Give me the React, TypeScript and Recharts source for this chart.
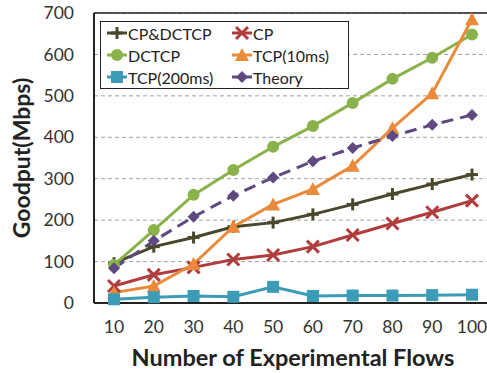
import React from "react";
import {
  CartesianGrid,
  Line,
  LineChart,
  ReferenceLine,
  XAxis,
  YAxis,
} from "recharts";

const flows = [10, 20, 30, 40, 50, 60, 70, 80, 90, 100];
const cpDctcp = [96, 136, 158, 184, 194, 214, 238, 263, 287, 310];
const cp = [41, 68, 86, 105, 116, 136, 164, 192, 219, 247];
const dctcp = [92, 176, 261, 321, 377, 427, 483, 541, 592, 648];
const tcp10 = [25, 41, 94, 184, 238, 275, 331, 422, 506, 685];
const tcp200 = [9, 14, 17, 15, 39, 17, 18, 18, 19, 20];
const theory = [84, 150, 208, 259, 303, 342, 374, 403, 430, 454];
const yTicks = [0, 100, 200, 300, 400, 500, 600, 700];
const boundaryTicks = [15, 25, 35, 45, 55, 65, 75, 85, 95];

const data = flows.map((f, i) => ({
  flows: f,
  cpDctcp: cpDctcp[i],
  cp: cp[i],
  dctcp: dctcp[i],
  tcp10: tcp10[i],
  tcp200: tcp200[i],
  theory: theory[i],
}));

const FONT = "Lato, 'Open Sans', sans-serif";

type Shape = "plus" | "cross" | "circle" | "triangle" | "square" | "diamond";

const series: { key: string; name: string; color: string; shape: Shape; dashed?: boolean }[] = [
  { key: "cpDctcp", name: "CP&DCTCP", color: "#4a482c", shape: "plus" },
  { key: "cp", name: "CP", color: "#b03c3c", shape: "cross" },
  { key: "dctcp", name: "DCTCP", color: "#8ab24a", shape: "circle" },
  { key: "tcp10", name: "TCP(10ms)", color: "#ea8a3a", shape: "triangle" },
  { key: "tcp200", name: "TCP(200ms)", color: "#3c9bb6", shape: "square" },
  { key: "theory", name: "Theory", color: "#5e4a80", shape: "diamond", dashed: true },
];

function Marker({ shape, cx, cy, color }: { shape: Shape; cx: number; cy: number; color: string }) {
  switch (shape) {
    case "plus":
      return (
        <g stroke={color} strokeWidth={3}>
          <line x1={cx - 6} y1={cy} x2={cx + 6} y2={cy} />
          <line x1={cx} y1={cy - 6} x2={cx} y2={cy + 6} />
        </g>
      );
    case "cross":
      return (
        <g stroke={color} strokeWidth={3}>
          <line x1={cx - 6} y1={cy - 6} x2={cx + 6} y2={cy + 6} />
          <line x1={cx - 6} y1={cy + 6} x2={cx + 6} y2={cy - 6} />
        </g>
      );
    case "circle":
      return <circle cx={cx} cy={cy} r={6} fill={color} />;
    case "triangle":
      return <polygon points={`${cx},${cy - 7} ${cx + 7},${cy + 6} ${cx - 7},${cy + 6}`} fill={color} />;
    case "square":
      return <rect x={cx - 6} y={cy - 6} width={12} height={12} fill={color} />;
    default:
      return <polygon points={`${cx},${cy - 6} ${cx + 6},${cy} ${cx},${cy + 6} ${cx - 6},${cy}`} fill={color} />;
  }
}

function LegendBox() {
  return (
    <div
      style={{
        position: "absolute",
        left: 100,
        top: 21,
        border: "1px solid #222",
        background: "#fff",
        display: "grid",
        gridTemplateColumns: "125px 112px",
        padding: "0px 4px 0px 6px",
        fontFamily: FONT,
        fontSize: 16,
        color: "#222",
      }}
    >
      {series.map((s) => (
        <div key={s.key} style={{ display: "flex", alignItems: "center", height: 22 }}>
          <svg width={20} height={16} style={{ marginRight: 1 }}>
            <line x1={0} y1={8} x2={20} y2={8} stroke={s.color} strokeWidth={3} />
            <Marker shape={s.shape} cx={10} cy={8} color={s.color} />
          </svg>
          <span>{s.name}</span>
        </div>
      ))}
    </div>
  );
}

export default function App() {
  return (
    <div style={{ position: "absolute", left: 0, top: 0, width: 487, height: 373, overflow: "hidden", background: "#fff" }}>
      <LineChart width={510} height={373} data={data} margin={{ top: 13, right: 18, bottom: 0, left: 0 }}>
        <CartesianGrid horizontal vertical={false} stroke="#a0a0a0" strokeDasharray="4 3" />
        <XAxis xAxisId="b" type="number" domain={[5, 105]} hide />
        <XAxis
          dataKey="flows"
          height={70}
          padding={{ left: 20, right: 20 }}
          axisLine={{ stroke: "#222", strokeWidth: 2 }}
          tickLine={false}
          tickSize={0}
          tickMargin={18}
          tick={{ fontFamily: FONT, fontSize: 17.5, fill: "#333" }}
          label={{ value: "Number of Experimental Flows", position: "insideBottom", offset: 7, style: { fontFamily: FONT, fontWeight: 700, fontSize: 23.5, fill: "#222" } }}
        />
        <YAxis
          domain={[0, 700]}
          ticks={yTicks}
          width={94}
          axisLine={{ stroke: "#222", strokeWidth: 2 }}
          tickLine={false}
          tickSize={0}
          tickMargin={20}
          tick={{ fontFamily: FONT, fontSize: 17.5, fill: "#333" }}
          label={{ value: "Goodput(Mbps)", angle: -90, position: "insideLeft", offset: 22, style: { textAnchor: "middle", fontFamily: FONT, fontWeight: 700, fontSize: 23, fill: "#222" } }}
        />
        <ReferenceLine y={700} stroke="#222" strokeWidth={1.5} />
        {boundaryTicks.map((t) => (
          <ReferenceLine
            key={t}
            xAxisId="b"
            segment={[{ x: t, y: 0 }, { x: t, y: 12 }]}
            stroke="#999"
            strokeWidth={1}
          />
        ))}
        {series.map((s) => (
          <Line
            key={s.key}
            dataKey={s.key}
            name={s.name}
            stroke={s.color}
            strokeWidth={3}
            strokeDasharray={s.dashed ? "12 7" : undefined}
            isAnimationActive={false}
            dot={(p: any) => <Marker key={`${s.key}-${p.index}`} shape={s.shape} cx={p.cx} cy={p.cy} color={s.color} />}
            activeDot={false}
          />
        ))}
      </LineChart>
      <LegendBox />
    </div>
  );
}
